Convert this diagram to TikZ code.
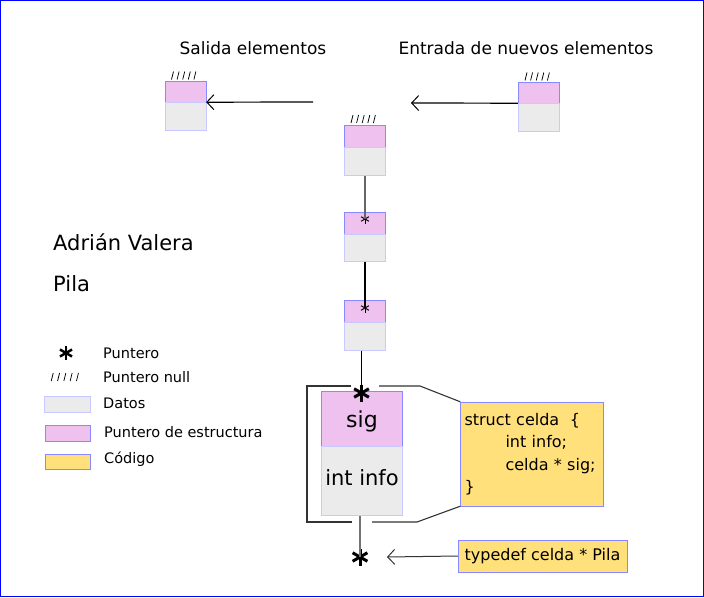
\documentclass[tikz,border=0pt]{standalone}
\usepackage{fontspec}
\setmainfont{DejaVu Sans}
\usetikzlibrary{positioning,arrows.meta}

\definecolor{rosa}{RGB}{238,193,238}
\definecolor{gris}{RGB}{235,235,235}
\definecolor{amarillo}{RGB}{255,224,122}
\definecolor{bordeazul}{RGB}{136,136,255}

\begin{document}
\begin{tikzpicture}[
    x=1pt, y=-1pt,
    pinkcell/.style={rectangle, draw=bordeazul, fill=rosa, minimum width=41pt, minimum height=22pt, inner sep=0pt},
    graycell/.style={rectangle, draw=bordeazul!45, fill=gris, minimum width=41pt, minimum height=28pt, inner sep=0pt},
    codebox/.style={rectangle, draw=bordeazul, fill=amarillo, inner sep=4pt, font=\fontsize{16}{22.5}\selectfont},
    nulo/.style={minimum width=#1*5+4pt, minimum height=9pt, inner sep=0pt,
        path picture={\foreach \i in {0,...,4}
            \draw[line width=0.75pt] ([xshift=\i*#1+1pt, yshift=0.5pt]path picture bounding box.south west) -- ++(2pt,8pt);}},
    nulo/.default=5.6pt,
    ast/.style 2 args={minimum size=24pt, inner sep=0pt,
        path picture={\foreach \a in {90,30,150}
            \draw[line width=#2] ([shift={(\a:#1)}]path picture bounding box.center) -- ([shift={(\a+180:#1)}]path picture bounding box.center);}},
    label/.style={inner sep=0pt, font=\fontsize{17}{20}\selectfont},
    leyenda/.style={inner sep=0pt, anchor=west, font=\fontsize{14.5}{17}\selectfont},
    line/.style={draw, line width=1.2pt, -{Straight Barb[length=7pt, width=15pt, line width=1pt]}},
    enlace/.style={draw, line width=1.2pt},
    llave/.style={draw=black!80, line width=1.1pt}
]
\useasboundingbox (0,0) rectangle (704,597);
\draw[blue, line width=1pt] (0.5,0.5) rectangle (703.5,596.5);

% Titles
\node[label] (salida) at (253,48) {Salida elementos};
\node[label] (entrada) at (526,48) {Entrada de nuevos elementos};

% Cell taken out
\node[pinkcell, minimum height=21pt] (outP) at (185.5,91.5) {};
\node[graycell, below=0pt of outP] (outG) {};
\node[nulo] (outN) at (186.5,75.5) {};
\coordinate (salidaIni) at (313,102);
\draw[line] (salidaIni) -- (outP.south east);

% New cell coming in
\node[pinkcell, minimum height=21pt] (inP) at (538.5,92.5) {};
\node[graycell, below=0pt of inP] (inG) {};
\node[nulo] (inN) at (540,76.5) {};
\coordinate (entradaFin) at (411,103);
\draw[line] (inP.south west) -- (entradaFin);

% Stack cells
\node[pinkcell] (p1) at (364.5,136) {};
\node[graycell, below=0pt of p1] (g1) {};
\node[nulo] (n1) at (366,119) {};

\node[pinkcell] (p2) at (364.5,223) {};
\node[graycell, below=0pt of p2, minimum height=27pt] (g2) {};
\node[ast={4.5pt}{1pt}] (s2) at (365,219) {};

\node[pinkcell] (p3) at (364.5,311) {};
\node[graycell, below=0pt of p3] (g3) {};
\node[ast={4.5pt}{1pt}] (s3) at (365,308) {};

\draw[enlace, black!60] (g1.south -| s2) -- (s2.center);
\draw[enlace] (g2.south -| s3) -- (s3.center);

% Detailed cell
\node[pinkcell, minimum width=81pt, minimum height=55pt, text height=22pt, font=\fontsize{22}{26}\selectfont] (bigP) at (362,418.5) {sig};
\node[graycell, below=0pt of bigP, minimum width=81pt, minimum height=69pt, text depth=6pt, font=\fontsize{21}{25}\selectfont] (bigG) {int info};
\node[ast={8.5pt}{3pt}] (astTop) at (361.5,393) {};
\draw[enlace] (g3.south -| astTop) -- (astTop.center);

% Code boxes
\node[codebox, minimum width=143pt, minimum height=104pt, text width=135pt, align=left] (struct) at (532,454) {struct celda\ \ \{\\\hspace*{41pt}int info;\\\hspace*{41pt}celda * sig;\\\}};
\node[codebox, minimum width=169pt, minimum height=32pt] (typedef) at (542.5,556) {typedef celda * Pila};

% Bracket round the detailed cell
\draw[llave] (351,386) -- (307,386) -- (307,522) -- (352,522);
\draw[llave] (379,386) -- (420,386) -- (struct.north west);
\draw[llave] (372,522) -- (417,522) -- (struct.south west);

% Pila pointer
\node[ast={8.5pt}{3pt}] (astPila) at (360,557) {};
\draw[enlace, black!55] (bigG.south -| astPila) -- (astPila.center);
\coordinate (pilaFin) at (387,557);
\draw[line, line width=1pt, black!80] (typedef.west) -- (pilaFin);

% Author and title
\node[inner sep=0pt, anchor=west, font=\fontsize{21}{25}\selectfont] (autor) at (53,242) {Adrián Valera};
\node[inner sep=0pt, anchor=west, font=\fontsize{21}{25}\selectfont] (titulo) at (53,284) {Pila};

% Legend
\node[ast={7pt}{2.5pt}] (lAst) at (66,353) {};
\node[leyenda] (lPuntero) at (103,353) {Puntero};
\node[nulo=6.3pt] (lNulo) at (68,377) {};
\node[leyenda] (lNull) at (103,377) {Puntero null};
\node[graycell, minimum width=46pt, minimum height=16pt] (lGris) at (67,404) {};
\node[leyenda] (lDatos) at (103,403) {Datos};
\node[pinkcell, minimum width=45pt, minimum height=16pt] (lRosa) at (67.5,433) {};
\node[leyenda] (lEstr) at (104,432) {Puntero de estructura};
\node[codebox, minimum width=45pt, minimum height=15pt, inner sep=0pt] (lAmar) at (67.5,461.5) {};
\node[leyenda] (lCodigo) at (104,459) {Código};

\end{tikzpicture}
\end{document}
